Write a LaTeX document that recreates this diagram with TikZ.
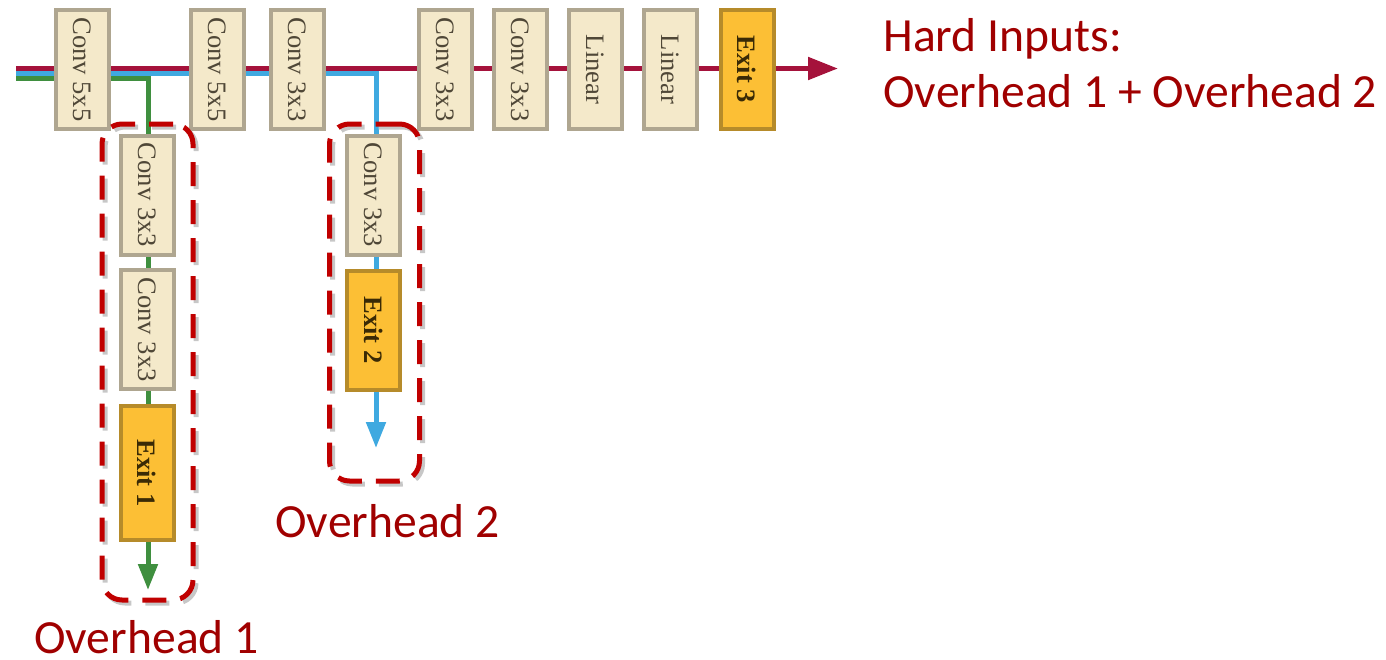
\documentclass[tikz,border=0pt]{standalone}
\usepackage{fontspec}
\newfontfamily\layerfont{Liberation Serif}
\newfontfamily\notefont{Carlito}
\usetikzlibrary{positioning, arrows.meta, fit, backgrounds}

\definecolor{layerfill}{HTML}{F4E9CA}
\definecolor{layerdraw}{HTML}{AFA690}
\definecolor{layertext}{HTML}{4F4737}
\definecolor{exitfill}{HTML}{FCBF35}
\definecolor{exitdraw}{HTML}{B68B2A}
\definecolor{exittext}{HTML}{3A2A05}
\definecolor{mainred}{HTML}{A5123B}
\definecolor{ohred}{HTML}{C00000}
\definecolor{lblred}{HTML}{A00000}
\definecolor{brblue}{HTML}{3FA9E0}
\definecolor{brgreen}{HTML}{3F8F3F}

\newcommand{\vlabel}[1]{\rotatebox{-90}{#1}}

\begin{document}
\begin{tikzpicture}[
    x=0.5pt, y=-0.5pt,
    >={Triangle[length=13pt, width=9.5pt]},
    layer/.style={draw=layerdraw, fill=layerfill, line width=2pt,
      minimum width=26.5pt, minimum height=59.5pt, inner sep=1pt,
      text=layertext, font=\layerfont\fontsize{13.3pt}{15pt}\selectfont},
    exitbox/.style={layer, draw=exitdraw, fill=exitfill, text=exittext,
      font=\layerfont\bfseries\fontsize{13.3pt}{15pt}\selectfont},
    mainpath/.style={mainred, line width=2.5pt},
    branch1/.style={brgreen, line width=2.5pt},
    branch2/.style={brblue, line width=2.5pt},
    overhead/.style={draw=ohred, line width=2.5pt, dash pattern=on 12pt off 7pt,
      rounded corners=10pt, inner sep=0pt},
    ohshadow/.style={overhead, draw=black!22, xshift=1.5pt, yshift=-1.5pt},
    note/.style={text=lblred, font=\notefont\fontsize{23.8pt}{28pt}\selectfont,
      inner sep=0pt, anchor=base west},
  ]

  \useasboundingbox (0,0) rectangle (1386,659);

  % main network
  \node[layer] (c1) at (82,69.5)    {\vlabel{Conv 5x5}};
  \node[layer] (c2) at (217,69.5)   {\vlabel{Conv 5x5}};
  \node[layer] (c3) at (297.5,69.5) {\vlabel{Conv 3x3}};
  \node[layer] (c4) at (445,69.5)   {\vlabel{Conv 3x3}};
  \node[layer] (c5) at (520,69.5)   {\vlabel{Conv 3x3}};
  \node[layer] (l1) at (595,69.5)   {\vlabel{Linear}};
  \node[layer] (l2) at (670.5,69.5) {\vlabel{Linear}};
  \node[exitbox] (e3) at (747,69.5) {\vlabel{Exit 3}};

  % first branch
  \node[layer] (g1) at (147,195)   {\vlabel{Conv 3x3}};
  \node[layer] (g2) at (147,329.5) {\vlabel{Conv 3x3}};
  \node[exitbox, minimum height=67pt] (e1) at (147,473) {\vlabel{Exit 1}};

  % second branch
  \node[layer] (b1) at (373.5,195) {\vlabel{Conv 3x3}};
  \node[exitbox] (e2) at (373.5,330) {\vlabel{Exit 2}};

  \coordinate (inR) at (16,68.5);
  \coordinate (outR) at (838,68.5);
  \coordinate (inB) at (16,73.5);
  \coordinate (turnB) at (376,73.5);
  \coordinate (outB) at (376,448);
  \coordinate (inG) at (16,78.5);
  \coordinate (turnG) at (148,78.5);
  \coordinate (outG) at (148,590);

  \begin{pgfonlayer}{background}
    \draw[branch1, ->] (inG) -- (turnG) -- (outG);
    \draw[branch2, ->] (inB) -- (turnB) -- (outB);
    \draw[mainpath, -{Triangle[length=15pt, width=11pt]}] (inR) -- (outR);
  \end{pgfonlayer}

  % overhead frames
  \node[ohshadow, fit={(102,124) (193,600)}] {};
  \node[ohshadow, fit={(329.5,124) (419.5,481)}] {};
  \node[overhead, fit={(102,124) (193,600)}] (oh1) {};
  \node[overhead, fit={(329.5,124) (419.5,481)}] (oh2) {};

  \node[note] (hard) at (883,51) {Hard Inputs:};
  \node[note] (sum) at (883,107) {Overhead 1 + Overhead 2};
  \node[note] (oh2lbl) at (275,537) {Overhead 2};
  \node[note] (oh1lbl) at (34,653) {Overhead 1};

\end{tikzpicture}
\end{document}
